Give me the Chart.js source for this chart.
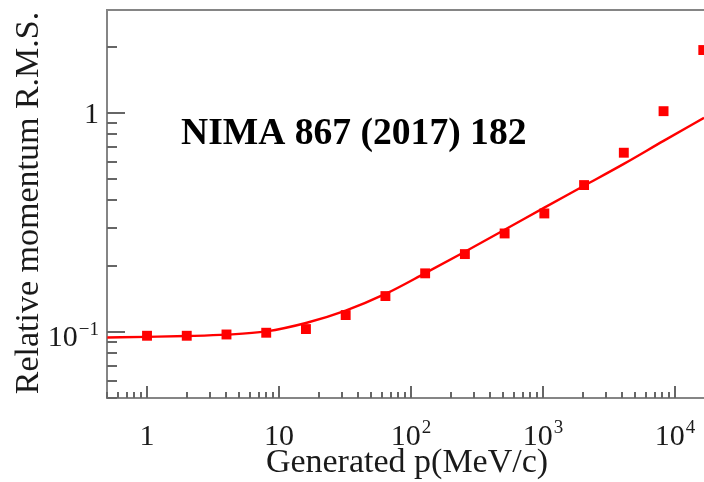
<!DOCTYPE html>
<html>
<head>
<meta charset="utf-8">
<script src="https://cdn.jsdelivr.net/npm/chart.js@4/dist/chart.umd.min.js"></script>
<style>
  html, body { margin: 0; padding: 0; background: #ffffff; overflow: hidden; }
  #wrap { width: 704px; height: 482px; position: relative; }
  canvas { display: block; }
</style>
</head>
<body>
<div id="wrap"><canvas id="c" width="704" height="482"></canvas></div>
<script>
// Generated momentum (MeV/c) of the simulated samples
const momenta = [1, 2, 4, 8, 16, 32, 64, 128, 256, 512, 1024, 2048, 4096, 8192, 16384];
// Relative momentum R.M.S. measured at each momentum
const rmsValues = [0.0962, 0.0962, 0.0975, 0.0993, 0.1032, 0.1196, 0.146, 0.1854, 0.227, 0.282, 0.348, 0.469, 0.659, 1.02, 1.94];
// Fitted resolution curve, sampled along the momentum axis
const fitMomenta = [0.5, 1, 2, 4, 8, 16, 32, 64, 128, 256, 512, 1024, 2048, 4096, 8192, 16600];
const fitValues = [0.0944, 0.0951, 0.0959, 0.0973, 0.1007, 0.110, 0.1253, 0.1493, 0.1858, 0.2328, 0.2931, 0.370, 0.4656, 0.5861, 0.7464, 0.9506];
// Axis tick labels: [mantissa text, exponent text]
const xTickValues = [1, 10, 100, 1000, 10000];
const xTickLabels = [['1', ''], ['10', ''], ['10', '2'], ['10', '3'], ['10', '4']];
const yTickValues = [0.1, 1];
const yTickLabels = [['10', '\u22121'], ['1', '']];

const SERIF = '"Liberation Serif", "Times New Roman", serif';
const RED = '#ff0000';

// Frame, inward tick marks, tick labels and annotation
const framePlugin = {
  id: 'frame',
  beforeDatasetsDraw(chart) {
    const ctx = chart.ctx;
    const a = chart.chartArea;
    const xs = chart.scales.x, ys = chart.scales.y;
    ctx.save();
    ctx.strokeStyle = '#858585';
    ctx.lineWidth = 2;
    ctx.beginPath();
    ctx.moveTo(a.right + 2, a.top);
    ctx.lineTo(a.left, a.top);
    ctx.lineTo(a.left, a.bottom);
    ctx.lineTo(a.right + 2, a.bottom);
    ctx.stroke();

    ctx.strokeStyle = '#666666';
    ctx.lineWidth = 2;
    // x ticks (pointing up into the plot)
    for (let e = -1; e <= 4; e++) {
      for (let k = 1; k <= 9; k++) {
        const v = k * Math.pow(10, e);
        if (v < xs.min || v > xs.max) continue;
        const px = Math.round(xs.getPixelForValue(v));
        const len = k === 1 ? 12 : 6;
        ctx.beginPath();
        ctx.moveTo(px, a.bottom);
        ctx.lineTo(px, a.bottom - len);
        ctx.stroke();
      }
    }
    // y ticks (pointing right into the plot)
    for (let e = -2; e <= 0; e++) {
      for (let k = 1; k <= 9; k++) {
        const v = k * Math.pow(10, e);
        if (v < ys.min || v > ys.max) continue;
        const py = Math.round(ys.getPixelForValue(v));
        const len = k === 1 ? 18 : 10;
        ctx.beginPath();
        ctx.moveTo(a.left, py);
        ctx.lineTo(a.left + len, py);
        ctx.stroke();
      }
    }
    ctx.restore();
  },
  afterDraw(chart) {
    const ctx = chart.ctx;
    const xs = chart.scales.x, ys = chart.scales.y;
    ctx.save();
    ctx.fillStyle = '#1a1a1a';
    ctx.textAlign = 'left';
    ctx.textBaseline = 'alphabetic';
    const baseFont = '30px ' + SERIF;
    const supFont = '19px ' + SERIF;

    // x tick labels, centred under each decade
    xTickValues.forEach((v, i) => {
      const [m, sup] = xTickLabels[i];
      ctx.font = baseFont;
      const wm = ctx.measureText(m).width;
      ctx.font = supFont;
      const ws = sup ? ctx.measureText(sup).width + 1 : 0;
      const cx = xs.getPixelForValue(v);
      const x0 = cx - (wm + ws) / 2;
      ctx.font = baseFont;
      ctx.fillText(m, x0, 445);
      if (sup) { ctx.font = supFont; ctx.fillText(sup, x0 + wm + 1, 433); }
    });

    // y tick labels, right aligned left of the axis
    const rightEdge = 99;
    yTickValues.forEach((v, i) => {
      const [m, sup] = yTickLabels[i];
      ctx.font = supFont;
      const ws = sup ? ctx.measureText(sup).width + 1 : 0;
      ctx.font = baseFont;
      const wm = ctx.measureText(m).width;
      const py = ys.getPixelForValue(v);
      const x0 = rightEdge - ws - wm;
      const base = py + (sup ? 14 : 10);
      ctx.fillText(m, x0, base);
      if (sup) { ctx.font = supFont; ctx.fillText(sup, x0 + wm + 1, base - 11); }
    });

    // axis titles
    ctx.font = '34px ' + SERIF;
    ctx.textAlign = 'center';
    ctx.fillText('Generated p(MeV/c)', 407, 472);
    ctx.save();
    ctx.translate(38, 203);
    ctx.rotate(-Math.PI / 2);
    ctx.fillText('Relative momentum R.M.S.', 0, 0);
    ctx.restore();

    // reference annotation
    ctx.textAlign = 'left';
    ctx.fillStyle = '#000000';
    ctx.font = 'bold 37.6px ' + SERIF;
    ctx.fillText('NIMA 867 (2017) 182', 181, 144);
    ctx.restore();
  }
};

new Chart(document.getElementById('c'), {
  type: 'scatter',
  data: {
    datasets: [
      {
        label: 'fit',
        data: fitMomenta.map((p, i) => ({ x: p, y: fitValues[i] })),
        showLine: true,
        borderColor: RED,
        borderWidth: 2.4,
        pointRadius: 0,
        cubicInterpolationMode: 'monotone',
        clip: false,
        order: 2
      },
      {
        label: 'data',
        data: momenta.map((p, i) => ({ x: p, y: rmsValues[i] })),
        showLine: false,
        pointStyle: 'rect',
        pointRadius: 7,
        pointBorderWidth: 0,
        backgroundColor: RED,
        borderColor: RED,
        clip: false,
        order: 1
      }
    ]
  },
  options: {
    responsive: false,
    animation: false,
    devicePixelRatio: 1,
    layout: { autoPadding: false, padding: { top: 10, right: 0, left: 0, bottom: 0 } },
    plugins: { legend: { display: false }, tooltip: { enabled: false } },
    scales: {
      x: {
        type: 'logarithmic',
        min: 0.4975,
        max: 16590,
        grid: { display: false },
        border: { display: false },
        ticks: { display: false },
        afterFit(s) { s.height = 84; }
      },
      y: {
        type: 'logarithmic',
        min: 0.05,
        max: 2.955,
        grid: { display: false },
        border: { display: false },
        ticks: { display: false },
        afterFit(s) { s.width = 107; }
      }
    }
  },
  plugins: [framePlugin]
});
</script>
</body>
</html>
